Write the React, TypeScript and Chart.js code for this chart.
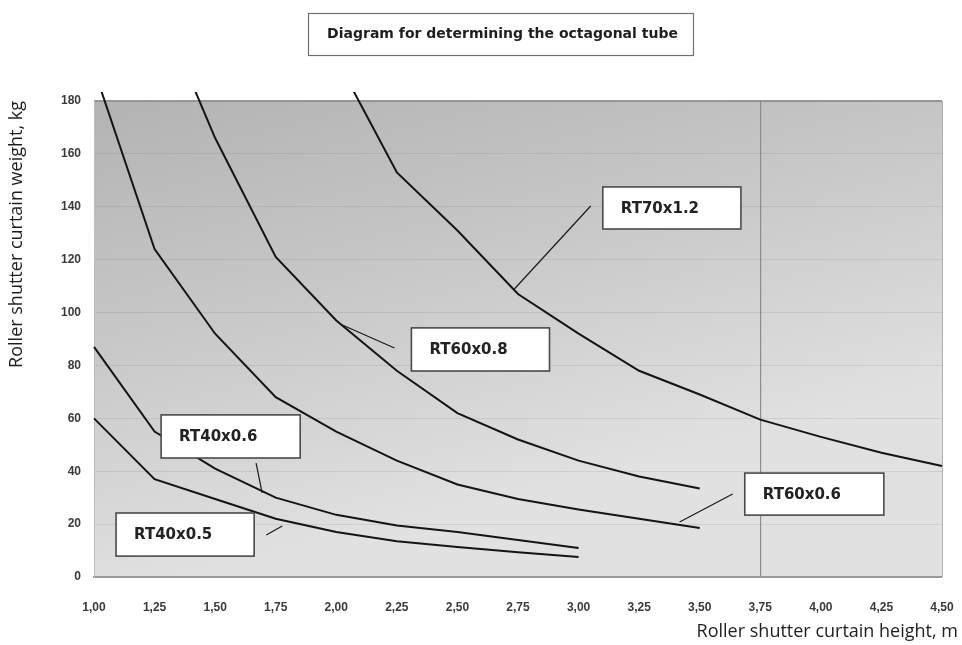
import React, { useEffect, useRef } from "react";
import { Chart, registerables } from "chart.js";

Chart.register(...registerables);

// ---------- texts ----------
const chartTitle = "Diagram for determining the octagonal tube";
const xAxisTitle = "Roller shutter curtain height, m";
const yAxisTitle = "Roller shutter curtain weight, kg";

// ---------- categories / ticks ----------
const heights = [1.0, 1.25, 1.5, 1.75, 2.0, 2.25, 2.5, 2.75, 3.0, 3.25, 3.5, 3.75, 4.0, 4.25, 4.5];
const heightLabels = ["1,00", "1,25", "1,50", "1,75", "2,00", "2,25", "2,50", "2,75", "3,00", "3,25", "3,50", "3,75", "4,00", "4,25", "4,50"];
const weightTicks = [0, 20, 40, 60, 80, 100, 120, 140, 160, 180];

// ---------- series ----------
const seriesNames = ["RT40x0.5", "RT40x0.6", "RT60x0.6", "RT60x0.8", "RT70x1.2"];
const rt40x05 = [60, 37, 29.5, 22, 17, 13.5, 11.3, 9.4, 7.6, null, null, null, null, null, null];
const rt40x06 = [87, 55, 41, 30, 23.5, 19.5, 17, 14, 11, null, null, null, null, null, null];
const rt60x06 = [192, 124, 92, 68, 55, 44, 35, 29.5, 25.5, 22, 18.5, null, null, null, null];
const rt60x08 = [null, 220, 166, 121, 97, 78, 62, 52, 44, 38, 33.5, null, null, null, null];
const rt70x12 = [null, null, null, null, 196, 153, 131, 107, 92, 78, 69, 59.5, 53, 47, 42];

const seriesValues = [rt40x05, rt40x06, rt60x06, rt60x08, rt70x12];

// ---------- callout layout (data coordinates) ----------
const callouts = [
  { name: seriesNames[4], box: [3.1, 147.5, 3.67, 131.6], line: [3.05, 140.3, 2.735, 108.9] },
  { name: seriesNames[3], box: [2.31, 94.2, 2.88, 77.9], line: [2.24, 86.6, 2.025, 95.3] },
  { name: seriesNames[2], box: [3.686, 39.3, 4.26, 23.4], line: [3.636, 31.4, 3.417, 20.8] },
  { name: seriesNames[1], box: [1.277, 61.3, 1.851, 45.0], line: [1.669, 43.1, 1.694, 31.8] },
  { name: seriesNames[0], box: [1.091, 24.2, 1.661, 7.9], line: [1.711, 15.9, 1.777, 19.3] },
];

const backgroundPlugin = {
  id: "bgPlugin",
  beforeDraw(chart: any) {
    const { ctx, chartArea: a, width, height } = chart;
    ctx.save();
    ctx.fillStyle = "#ffffff";
    ctx.fillRect(0, 0, width, height);
    const g = ctx.createLinearGradient(a.left, a.top, a.left + 120, a.bottom);
    g.addColorStop(0, "#b3b3b3");
    g.addColorStop(0.45, "#c6c6c6");
    g.addColorStop(1, "#e1e1e1");
    ctx.fillStyle = g;
    ctx.fillRect(a.left, a.top, a.right - a.left, a.bottom - a.top);
    ctx.strokeStyle = "#9a9a9a";
    ctx.lineWidth = 2;
    ctx.beginPath();
    ctx.moveTo(a.left, a.top);
    ctx.lineTo(a.right, a.top);
    ctx.stroke();
    ctx.lineWidth = 1;
    ctx.strokeStyle = "#b0b0b0";
    ctx.beginPath();
    ctx.moveTo(a.right + 0.5, a.top);
    ctx.lineTo(a.right + 0.5, a.bottom);
    ctx.stroke();
    ctx.restore();
  },
};

const annotationPlugin = {
  id: "calloutPlugin",
  afterDatasetsDraw(chart: any) {
    const { ctx } = chart;
    const xs = chart.scales.x;
    const ys = chart.scales.y;
    ctx.save();
    // chart title box
    const tb = { l: 308, t: 13, r: 693, b: 55 };
    ctx.fillStyle = "#ffffff";
    ctx.fillRect(tb.l, tb.t, tb.r - tb.l, tb.b - tb.t);
    ctx.strokeStyle = "#707070";
    ctx.lineWidth = 1.2;
    ctx.strokeRect(tb.l + 0.5, tb.t + 0.5, tb.r - tb.l, tb.b - tb.t);
    ctx.fillStyle = "#1e1e1e";
    ctx.font = "bold 14px 'DejaVu Sans'";
    ctx.textAlign = "center";
    ctx.textBaseline = "middle";
    ctx.fillText(chartTitle, (tb.l + tb.r) / 2 + 2, (tb.t + tb.b) / 2);

    // x axis title, right-aligned near the canvas edge
    ctx.fillStyle = "#1e1e1e";
    ctx.font = "18px 'Open Sans'";
    ctx.textAlign = "right";
    ctx.textBaseline = "middle";
    ctx.fillText(xAxisTitle, chart.width - 4, 632);

    for (const c of callouts) {
      const [lx0, ly0, lx1, ly1] = c.line;
      ctx.strokeStyle = "#1a1a1a";
      ctx.lineWidth = 1.2;
      ctx.beginPath();
      ctx.moveTo(xs.getPixelForValue(lx0), ys.getPixelForValue(ly0));
      ctx.lineTo(xs.getPixelForValue(lx1), ys.getPixelForValue(ly1));
      ctx.stroke();

      const [bx0, by0, bx1, by1] = c.box;
      const l = xs.getPixelForValue(bx0);
      const r = xs.getPixelForValue(bx1);
      const t = ys.getPixelForValue(by0);
      const b = ys.getPixelForValue(by1);
      ctx.fillStyle = "#ffffff";
      ctx.fillRect(l, t, r - l, b - t);
      ctx.strokeStyle = "#4a4a4a";
      ctx.lineWidth = 1.6;
      ctx.strokeRect(l, t, r - l, b - t);
      ctx.fillStyle = "#222222";
      ctx.font = "bold 15px 'DejaVu Sans'";
      ctx.textAlign = "left";
      ctx.textBaseline = "middle";
      ctx.fillText(c.name, l + 18, (t + b) / 2 + 1);
    }
    ctx.restore();
  },
};

export default function App() {
  const canvasRef = useRef<HTMLCanvasElement | null>(null);

  useEffect(() => {
    if (!canvasRef.current) return;
    const datasets = seriesNames.map((name, i) => ({
      label: name,
      data: heights
        .map((h, j) => ({ x: h, y: seriesValues[i][j] }))
        .filter((p) => p.y !== null && p.y !== undefined),
      borderColor: "#141414",
      backgroundColor: "#141414",
      borderWidth: 2,
      pointRadius: 0,
      tension: 0,
      fill: false,
      clip: { left: 2, top: 9, right: 2, bottom: 2 },
    }));

    const chart = new Chart(canvasRef.current, {
      type: "line",
      data: { datasets },
      plugins: [backgroundPlugin, annotationPlugin],
      options: {
        animation: false,
        responsive: true,
        maintainAspectRatio: false,
        layout: { padding: { top: 101, right: 20, bottom: 0, left: 0 } },
        plugins: {
          legend: { display: false },
          tooltip: { enabled: false },
          title: { display: false },
        },
        scales: {
          x: {
            type: "linear",
            min: heights[0],
            max: heights[heights.length - 1],
            afterBuildTicks: (scale: any) => {
              scale.ticks = heights.map((v) => ({ value: v }));
            },
            afterFit: (scale: any) => {
              scale.height = 68;
              scale.paddingLeft = 0;
              scale.paddingRight = 0;
            },
            ticks: {
              autoSkip: false,
              maxRotation: 0,
              padding: 23,
              color: "#3a3a3a",
              font: { family: "'Liberation Sans'", size: 12, weight: "bold" },
              callback: (v: any) => {
                const idx = heights.indexOf(Number(v));
                return idx >= 0 ? heightLabels[idx] : "";
              },
            },
            grid: {
              drawTicks: false,
              color: (ctx: any) => (ctx.tick && ctx.tick.value === 3.75 ? "#8c8c8c" : "rgba(0,0,0,0)"),
              lineWidth: 1.2,
            },
            border: { display: true, color: "#9a9a9a", width: 2 },
            title: { display: false },
          },
          y: {
            type: "linear",
            min: weightTicks[0],
            max: weightTicks[weightTicks.length - 1],
            afterBuildTicks: (scale: any) => {
              scale.ticks = weightTicks.map((v) => ({ value: v }));
            },
            afterFit: (scale: any) => {
              scale.width = 94;
            },
            ticks: {
              padding: 13,
              color: "#3a3a3a",
              font: { family: "'Liberation Sans'", size: 12, weight: "bold" },
            },
            grid: {
              drawTicks: false,
              color: "rgba(110,110,110,0.15)",
              lineWidth: 1,
            },
            border: { display: true, color: "#bdbdbd", width: 1 },
            title: {
              display: true,
              text: yAxisTitle,
              align: "end",
              color: "#1e1e1e",
              font: { family: "'Open Sans'", size: 18, weight: "normal" },
              padding: { top: 6, bottom: 0 },
            },
          },
        },
      },
    } as any);
    return () => chart.destroy();
  }, []);

  return (
    <div style={{ position: "absolute", left: 0, top: 0, width: 962, height: 645 }}>
      <canvas ref={canvasRef} />
    </div>
  );
}
